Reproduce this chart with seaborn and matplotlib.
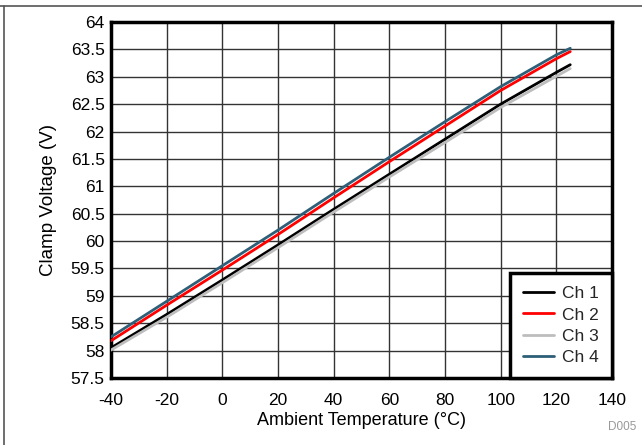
import matplotlib
matplotlib.use("Agg")
import matplotlib.pyplot as plt
import seaborn as sns
import pandas as pd
from matplotlib.lines import Line2D

temps = [-40, -20, 0, 20, 40, 60, 80, 100, 120, 125]
ch1 = [58.05, 58.66, 59.29, 59.93, 60.58, 61.22, 61.86, 62.50, 63.08, 63.22]
ch2 = [58.18, 58.83, 59.47, 60.12, 60.79, 61.45, 62.10, 62.75, 63.33, 63.46]
ch3 = [58.01, 58.61, 59.24, 59.88, 60.53, 61.17, 61.80, 62.44, 63.01, 63.15]
ch4 = [58.25, 58.90, 59.55, 60.20, 60.87, 61.53, 62.18, 62.82, 63.40, 63.52]
series_names = ["Ch 1", "Ch 2", "Ch 3", "Ch 4"]
colors = ["#000000", "#ff0000", "#bdbdbd", "#2e5f78"]
xticks = [-40, -20, 0, 20, 40, 60, 80, 100, 120, 140]
yticks = [57.5, 58, 58.5, 59, 59.5, 60, 60.5, 61, 61.5, 62, 62.5, 63, 63.5, 64]

rows = []
for name, vals in zip(series_names, [ch1, ch2, ch3, ch4]):
    for t, v in zip(temps, vals):
        rows.append({"Temp": t, "V": v, "Channel": name})
df = pd.DataFrame(rows)

sns.set_theme(style="white")
plt.rcParams['font.family'] = ['Liberation Sans', 'DejaVu Sans']

fig = plt.figure(figsize=(6.42, 4.45), dpi=100)
ax = fig.add_axes([111/642, 1-378/445, (612-111)/642, (378-22)/445])

sns.lineplot(data=df, x="Temp", y="V", hue="Channel", palette=colors,
             hue_order=series_names, linewidth=2, ax=ax, legend=False,
             zorder=3)

ax.set_xlim(-40, 140)
ax.set_ylim(57.5, 64)
ax.set_xticks(xticks)
ax.set_xticklabels([str(x) for x in xticks])
ax.set_yticks(yticks)
ax.set_yticklabels([f"{y:g}" for y in yticks])
ax.tick_params(axis='both', length=0, labelsize=12.5, colors='black')
ax.tick_params(axis='x', pad=11)
ax.tick_params(axis='y', pad=4.5)
ax.grid(True, color='#333333', linewidth=1)
ax.set_axisbelow(True)
for s in ax.spines.values():
    s.set_visible(True)
    s.set_color('black')
    s.set_linewidth(2.5)
ax.set_xlabel("Ambient Temperature (°C)", fontsize=13, labelpad=3, color='black')
ax.set_ylabel("Clamp Voltage (V)", fontsize=13.5, labelpad=10, color='black')

handles = [Line2D([0], [0], color=c, lw=2) for c in colors]
leg = ax.legend(handles, series_names, loc='lower right', fontsize=12.5,
                frameon=True, fancybox=False, framealpha=1, borderaxespad=0,
                handlelength=1.8, handletextpad=0.45, labelspacing=0.35,
                borderpad=0.75)
leg.get_frame().set_edgecolor('black')
leg.get_frame().set_linewidth(2.5)

fig.add_artist(Line2D([0, 1], [1-6/445, 1-6/445], color='#555555', lw=1.2,
                      transform=fig.transFigure))
fig.add_artist(Line2D([4/642, 4/642], [0, 1-6/445], color='#555555', lw=1.2,
                      transform=fig.transFigure))
fig.text(636/642, 1-427/445, "D005", color='#999999', fontsize=8.5,
         ha='right', va='center')

fig.savefig("out.png", dpi=100)
